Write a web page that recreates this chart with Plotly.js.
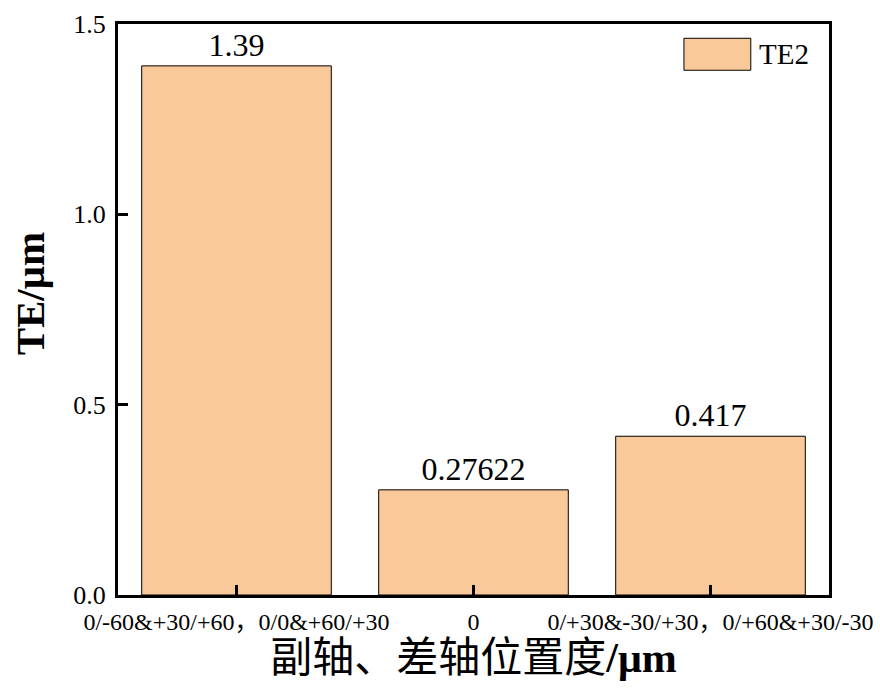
<!DOCTYPE html>
<html>
<head>
<meta charset="utf-8">
<script src="https://cdn.plot.ly/plotly-3.0.1.min.js"></script>
<style>
  html, body { margin: 0; padding: 0; background: #fff; }
  #chart { width: 880px; height: 688px; }
</style>
</head>
<body>
<div id="chart"></div>
<script>
'use strict';

// chart data
var categories = ['0/-60&+30/+60，0/0&+60/+30', '0', '0/+30&-30/+30，0/+60&+30/-30'];
var teValues = [1.39, 0.27622, 0.417];
var seriesName = 'TE2';
var yTicks = [0, 0.5, 1.0, 1.5];

var serif = '"Liberation Serif", "Times New Roman", "Noto Sans CJK SC", serif';
var barColor = '#F9C999';

var data = [{
    x: categories,
    y: teValues,
    type: 'bar',
    name: seriesName,
    width: 0.8,
    marker: { color: barColor, line: { color: '#000', width: 1 } },
    text: teValues.map(String),
    textposition: 'outside',
    textfont: { family: serif, size: 32, color: '#000' },
    cliponaxis: false,
    showlegend: false,
    hoverinfo: 'x+y'
}];

var layout = {
    width: 880,
    height: 688,
    margin: { l: 118, r: 51, t: 24, b: 93, pad: 0 },
    paper_bgcolor: '#fff',
    plot_bgcolor: '#fff',
    font: { family: serif, color: '#000' },
    bargap: 0.2,
    xaxis: {
        type: 'category',
        range: [-0.5, 2.5],
        showline: true,
        mirror: true,
        linecolor: '#000',
        linewidth: 3,
        ticks: 'inside',
        ticklen: 10,
        tickwidth: 3,
        tickcolor: '#000',
        showgrid: false,
        zeroline: false,
        tickfont: { family: serif, size: 24, color: '#000' },
        ticklabelstandoff: 3,
        title: {
            text: '副轴、差轴位置度<b>/μm</b>',
            font: { family: serif, size: 42, color: '#000' },
            standoff: 5
        }
    },
    yaxis: {
        range: [0, 1.5],
        tickvals: yTicks,
        tickformat: '.1f',
        showline: true,
        mirror: true,
        linecolor: '#000',
        linewidth: 3,
        ticks: 'inside',
        ticklen: 10,
        tickwidth: 3,
        tickcolor: '#000',
        showgrid: false,
        zeroline: false,
        tickfont: { family: serif, size: 26, color: '#000' },
        ticklabelstandoff: 4
    },
    // legend patch + label
    shapes: [{
        type: 'rect',
        xref: 'paper', yref: 'paper',
        x0: 0.796, x1: 0.890, y0: 0.919, y1: 0.975,
        fillcolor: barColor,
        line: { color: '#000', width: 1 }
    }],
    annotations: [{
        xref: 'paper', yref: 'paper',
        x: 0.899, y: 0.947,
        xanchor: 'left', yanchor: 'middle',
        text: seriesName,
        showarrow: false,
        font: { family: serif, size: 29, color: '#000' }
    }, {
        // y axis title, sits a bit above centre like the original
        xref: 'paper', yref: 'paper',
        x: -0.124, y: 0.528,
        xanchor: 'center', yanchor: 'middle',
        textangle: -90,
        text: '<b>TE/μm</b>',
        showarrow: false,
        font: { family: serif, size: 41, color: '#000' }
    }]
};

Plotly.newPlot('chart', data, layout, { displayModeBar: false, staticPlot: true });
</script>
</body>
</html>
